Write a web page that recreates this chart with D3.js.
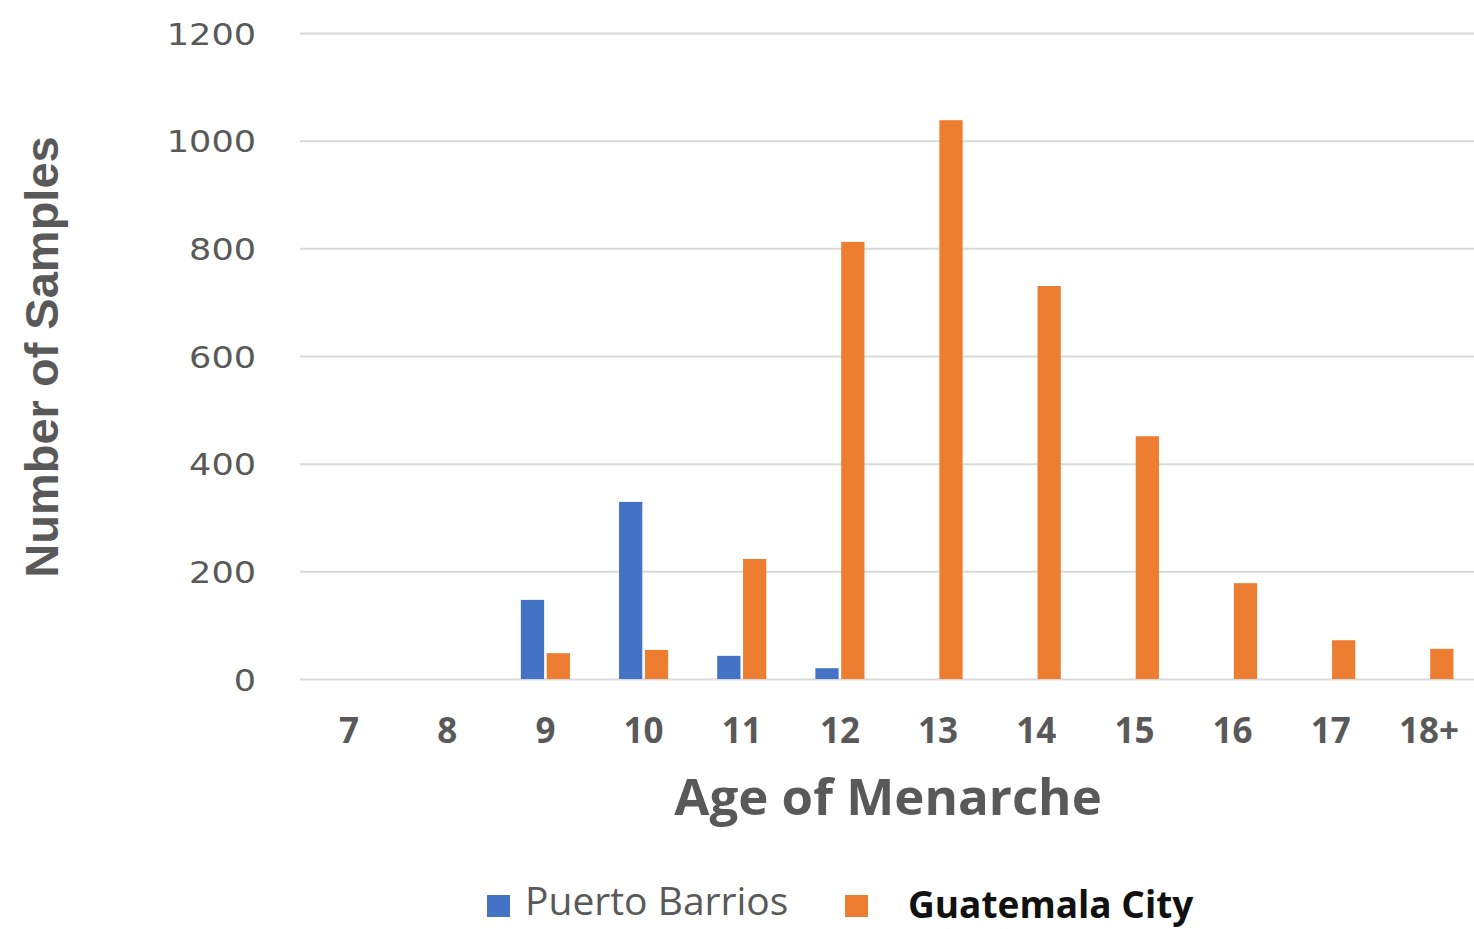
<!DOCTYPE html>
<html>
<head>
<meta charset="utf-8">
<script src="https://cdn.jsdelivr.net/npm/d3@7"></script>
<style>
  html, body { margin: 0; padding: 0; background: #ffffff; }
  svg { display: block; }
</style>
</head>
<body>
<svg id="chart" width="1474" height="929"></svg>
<script>
// Age of menarche, sample counts per site
const categories = ["7", "8", "9", "10", "11", "12", "13", "14", "15", "16", "17", "18+"];
const seriesNames = ["Puerto Barrios", "Guatemala City"];
const puertoBarrios = [0, 0, 147, 329, 43, 20, 0, 0, 0, 0, 0, 0];
const guatemalaCity = [0, 0, 48, 54, 223, 812, 1038, 730, 451, 178, 72, 56];
const yTicks = [0, 200, 400, 600, 800, 1000, 1200];
const colors = ["#4472C4", "#ED7D31"];

const seriesValues = [puertoBarrios, guatemalaCity];
const rows = categories.map((c, i) => ({
  category: c,
  values: seriesNames.map((s, j) => ({ series: s, value: seriesValues[j][i], idx: j }))
}));

const svg = d3.select("#chart");
const plot = { left: 300, right: 1478, top: 33, bottom: 679 };

const x0 = d3.scaleBand()
  .domain(categories)
  .range([plot.left, plot.right])
  .paddingInner(0.5)
  .paddingOuter(0.25);

const x1 = d3.scaleBand()
  .domain(seriesNames)
  .range([0, x0.bandwidth()])
  .paddingInner(0.1)
  .paddingOuter(0);

const y = d3.scaleLinear().domain([0, 1200]).range([plot.bottom, plot.top]);

// Horizontal gridlines with value labels
const yAxis = d3.axisLeft(y)
  .tickValues(yTicks)
  .tickSize(-(plot.right - plot.left))
  .tickPadding(44)
  .tickFormat(d3.format("d"));

const gy = svg.append("g")
  .attr("transform", `translate(${plot.left},0)`)
  .call(yAxis);
gy.select(".domain").remove();
gy.selectAll(".tick line")
  .attr("stroke", "#d9d9d9")
  .attr("stroke-width", 2);
gy.selectAll(".tick text")
  .attr("fill", "#595959")
  .style("font-family", "'DejaVu Sans', sans-serif")
  .style("font-size", "31px")
  .attr("dy", "0.36em")
  // slightly wide digit set
  .attr("textLength", d => String(d).length * 22.3)
  .attr("lengthAdjust", "spacingAndGlyphs");

// Bars
const groups = svg.append("g")
  .selectAll("g")
  .data(rows)
  .join("g")
  .attr("transform", d => `translate(${x0(d.category)},0)`);

groups.selectAll("rect")
  .data(d => d.values.filter(v => v.value > 0))
  .join("rect")
  .attr("x", d => x1(d.series))
  .attr("width", x1.bandwidth())
  .attr("y", d => y(d.value))
  .attr("height", d => y(0) - y(d.value))
  .attr("fill", d => colors[d.idx]);

// Category axis
const xAxis = d3.axisBottom(x0).tickSize(0).tickPadding(0);
const gx = svg.append("g")
  .attr("transform", `translate(0,${plot.bottom})`)
  .call(xAxis);
gx.select(".domain").remove();
gx.selectAll(".tick text")
  .attr("fill", "#595959")
  .attr("y", 64)
  .attr("dy", 0)
  .style("font-family", "'Open Sans', sans-serif")
  .style("font-weight", "700")
  .style("font-size", "35px");

// Axis titles
svg.append("text")
  .attr("x", 888)
  .attr("y", 815)
  .attr("text-anchor", "middle")
  .attr("fill", "#595959")
  .style("font-family", "'Open Sans', sans-serif")
  .style("font-weight", "700")
  .style("font-size", "51px")
  .text("Age of Menarche");

svg.append("text")
  .attr("transform", "translate(58,357) rotate(-90)")
  .attr("text-anchor", "middle")
  .attr("fill", "#595959")
  .style("font-family", "'Liberation Sans', Arial, sans-serif")
  .style("font-weight", "700")
  .style("font-size", "47px")
  .text("Number of Samples");

// Legend
const legend = [
  { name: seriesNames[0], color: colors[0], sx: 487, tx: 525, ty: 915, fill: "#595959", weight: 400, size: 39 },
  { name: seriesNames[1], color: colors[1], sx: 845, tx: 908, ty: 918, fill: "#111111", weight: 700, size: 37 }
];
const lg = svg.append("g").selectAll("g").data(legend).join("g");
lg.append("rect")
  .attr("x", d => d.sx)
  .attr("y", 895)
  .attr("width", 23)
  .attr("height", 22)
  .attr("fill", d => d.color);
lg.append("text")
  .attr("x", d => d.tx)
  .attr("y", d => d.ty)
  .attr("fill", d => d.fill)
  .style("font-family", "'Open Sans', sans-serif")
  .style("font-weight", d => d.weight)
  .style("font-size", d => d.size + "px")
  .text(d => d.name);
</script>
</body>
</html>
